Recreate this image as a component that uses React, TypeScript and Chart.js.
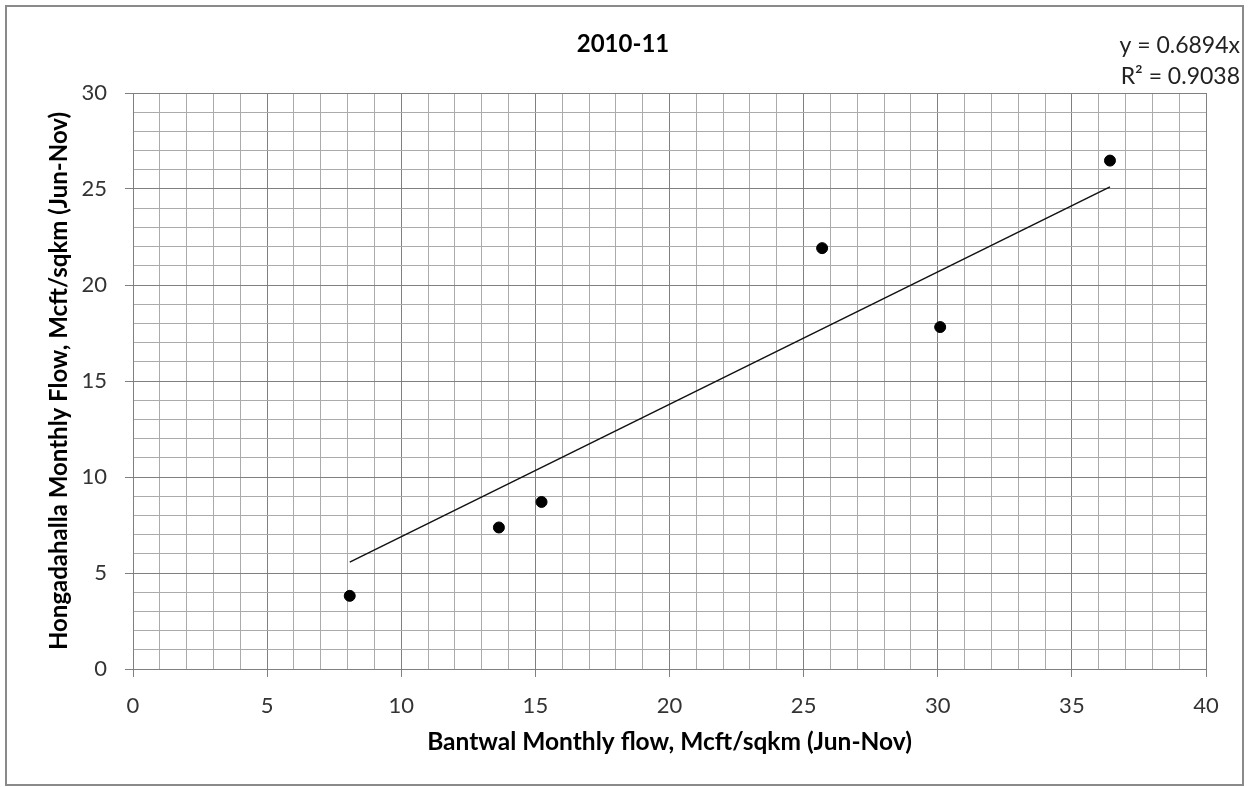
import React, { useEffect, useRef } from 'react';
import { Chart, registerables } from 'chart.js';

Chart.register(...registerables);

// ---- data ----
const bantwalFlow = [8.08, 13.64, 15.23, 25.69, 30.09, 36.42];
const hongadahallaFlow = [3.81, 7.37, 8.7, 21.92, 17.81, 26.48];
const trendSlope = 0.6894;
const rSquared = 0.9038;

const chartTitle = '2010-11';
const xAxisTitle = 'Bantwal Monthly flow, Mcft/sqkm (Jun-Nov)';
const yAxisTitle = 'Hongadahalla Monthly Flow, Mcft/sqkm (Jun-Nov)';
const equationLines = [`y = ${trendSlope}x`, `R\u00B2 = ${rSquared}`];

const xMin = 0;
const xMax = 40;
const yMin = 0;
const yMax = 30;
const minorStep = 1;
const majorStep = 5;

const FONT = 'Lato, "Open Sans", sans-serif';
const MAJOR_GRID = '#808080';
const MINOR_GRID = '#ababab';
const TICK_COLOR = '#333333';

export default function App() {
  const canvasRef = useRef<HTMLCanvasElement | null>(null);

  useEffect(() => {
    document.body.style.margin = '0';
    const canvas = canvasRef.current;
    if (!canvas) return;

    const points = bantwalFlow.map((x, i) => ({ x, y: hongadahallaFlow[i] }));
    const lo = Math.min(...bantwalFlow);
    const hi = Math.max(...bantwalFlow);
    const trend = [
      { x: lo, y: trendSlope * lo },
      { x: hi, y: trendSlope * hi },
    ];

    const framePlugin = {
      id: 'frame',
      beforeDraw(chart: any) {
        const { ctx, width, height } = chart;
        ctx.save();
        ctx.fillStyle = '#ffffff';
        ctx.fillRect(0, 0, width, height);
        ctx.restore();
      },
      afterDraw(chart: any) {
        const { ctx } = chart;
        ctx.save();
        ctx.strokeStyle = '#8a8a8a';
        ctx.lineWidth = 2;
        ctx.strokeRect(6, 6, 1237, 779);
        ctx.fillStyle = '#222222';
        ctx.font = `23px ${FONT}`;
        ctx.textAlign = 'right';
        ctx.textBaseline = 'middle';
        ctx.fillText(equationLines[0], 1240, 46);
        ctx.fillText(equationLines[1], 1240, 77);
        ctx.restore();
      },
    };

    const gridColor = (c: any) =>
      c.tick && Math.abs(c.tick.value % majorStep) < 1e-9 ? MAJOR_GRID : MINOR_GRID;
    const tickMarkColor = (c: any) =>
      c.tick && Math.abs(c.tick.value % majorStep) < 1e-9 ? MAJOR_GRID : 'rgba(0,0,0,0)';
    const majorLabel = (v: any) => (Math.abs(Number(v) % majorStep) < 1e-9 ? String(v) : '');

    const chart = new Chart(canvas, {
      type: 'scatter',
      data: {
        datasets: [
          {
            label: 'Monthly flow',
            data: points,
            backgroundColor: '#000000',
            borderColor: '#000000',
            pointRadius: 5.5,
            pointHoverRadius: 5.5,
            showLine: false,
          },
          {
            label: 'Linear trend',
            data: trend,
            showLine: true,
            borderColor: '#111111',
            borderWidth: 1.5,
            pointRadius: 0,
            fill: false,
          },
        ],
      },
      options: {
        responsive: false,
        animation: false,
        layout: { padding: { left: 40, right: 44, top: 0, bottom: 30 } },
        plugins: {
          legend: { display: false },
          tooltip: { enabled: false },
          title: {
            display: true,
            text: chartTitle,
            color: '#000000',
            font: { family: FONT, size: 24, weight: 'bold' },
            padding: { top: 30, bottom: 34.2 },
          },
        },
        scales: {
          x: {
            type: 'linear',
            min: xMin,
            max: xMax,
            afterFit: (s: any) => {
              s.height = 88;
            },
            ticks: {
              stepSize: minorStep,
              autoSkip: false,
              maxRotation: 0,
              padding: 16,
              color: TICK_COLOR,
              font: { family: FONT, size: 22 },
              callback: majorLabel,
            },
            grid: {
              color: gridColor,
              tickColor: tickMarkColor,
              tickLength: 8,
              lineWidth: 1,
            },
            border: { color: '#808080', width: 1 },
            title: {
              display: true,
              text: xAxisTitle,
              color: '#000000',
              font: { family: FONT, size: 24.5, weight: 'bold' },
              padding: { top: 0, bottom: 0 },
            },
          },
          y: {
            type: 'linear',
            min: yMin,
            max: yMax,
            afterFit: (s: any) => {
              s.width = 93;
            },
            ticks: {
              stepSize: minorStep,
              autoSkip: false,
              padding: 18,
              color: TICK_COLOR,
              font: { family: FONT, size: 22 },
              callback: majorLabel,
            },
            grid: {
              color: gridColor,
              tickColor: tickMarkColor,
              tickLength: 8,
              lineWidth: 1,
            },
            border: { color: '#808080', width: 1 },
            title: {
              display: true,
              text: yAxisTitle,
              color: '#000000',
              font: { family: FONT, size: 24, weight: 'bold' },
              padding: { top: 5, bottom: 0 },
            },
          },
        },
      },
      plugins: [framePlugin],
    });

    return () => chart.destroy();
  }, []);

  return (
    <canvas
      ref={canvasRef}
      width={1250}
      height={787}
      style={{ display: 'block', width: 1250, height: 787 }}
    />
  );
}
